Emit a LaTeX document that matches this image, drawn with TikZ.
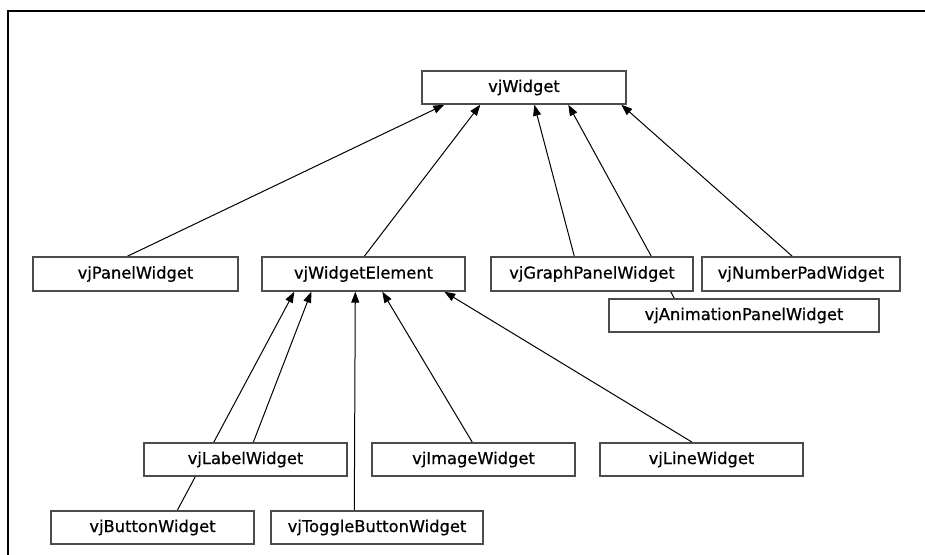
\documentclass[tikz,border=0pt]{standalone}
\usepackage{fontspec}
\setmainfont{DejaVu Sans}
\newfontfamily\lblfont[FakeBold=0.7]{DejaVu Sans}
\usetikzlibrary{arrows.meta,calc}
\pgfdeclarelayer{background}
\pgfsetlayers{background,main}
\tikzset{
  cls/.style={draw=black!70, line width=1.4pt, fill=white, rectangle,
    minimum height=33pt, inner sep=0pt,
    font=\lblfont\fontsize{16.3}{19}\selectfont},
  inh/.style={draw=black, line width=1pt, -{Triangle[length=11pt,width=8pt]}},
  frameline/.style={draw=black, line width=2pt}
}
\begin{document}
\begin{tikzpicture}[x=1pt,y=-1pt]
\useasboundingbox (0,0) rectangle (925,554);
\draw[frameline] (8,555) -- (8,11) -- (926,11);

\node[cls, minimum width=204pt] (w) at (524,87.5) {vjWidget};
\node[cls, minimum width=205pt, minimum height=34pt] (panel) at (135.5,274) {vjPanelWidget};
\node[cls, minimum width=203pt, minimum height=34pt] (elem) at (363.5,274) {vjWidgetElement};
\node[cls, minimum width=202pt, minimum height=34pt] (graph) at (592,274) {vjGraphPanelWidget};
\node[cls, minimum width=198pt, minimum height=34pt] (numpad) at (801,274) {vjNumberPadWidget};
\node[cls, minimum width=270pt] (anim) at (744,315.5) {vjAnimationPanelWidget};
\node[cls, minimum width=203pt] (label) at (245.5,459.5) {vjLabelWidget};
\node[cls, minimum width=203pt] (image) at (473.5,459.5) {vjImageWidget};
\node[cls, minimum width=203pt] (line) at (701.5,459.5) {vjLineWidget};
\node[cls, minimum width=203pt] (button) at (152.5,527.5) {vjButtonWidget};
\node[cls, minimum width=212pt] (toggle) at (377,527.5) {vjToggleButtonWidget};

\begin{pgfonlayer}{background}
\draw[inh] ($(panel.north west)+(95,0)$) -- ($(w.south west)+(23,0)$);
\draw[inh] ($(elem.north west)+(103,0)$) -- ($(w.south west)+(59,0)$);
\draw[inh] ($(graph.north west)+(84,0)$) -- ($(w.south west)+(113,0)$);
\draw[inh] ($(anim.north west)+(66,0)$) -- ($(w.south west)+(147,0)$);
\draw[inh] ($(numpad.north west)+(91,0)$) -- ($(w.south west)+(200,0)$);
\draw[inh] ($(button.north west)+(127,0)$) -- ($(elem.south west)+(33,0)$);
\draw[inh] ($(label.north west)+(110,0)$) -- ($(elem.south west)+(50,0)$);
\draw[inh] ($(toggle.north west)+(84,0)$) -- ($(elem.south west)+(94,0)$);
\draw[inh] ($(image.north west)+(101,0)$) -- ($(elem.south west)+(121,0)$);
\draw[inh] ($(line.north west)+(93,0)$) -- ($(elem.south west)+(183,0)$);
\end{pgfonlayer}
\end{tikzpicture}
\end{document}
